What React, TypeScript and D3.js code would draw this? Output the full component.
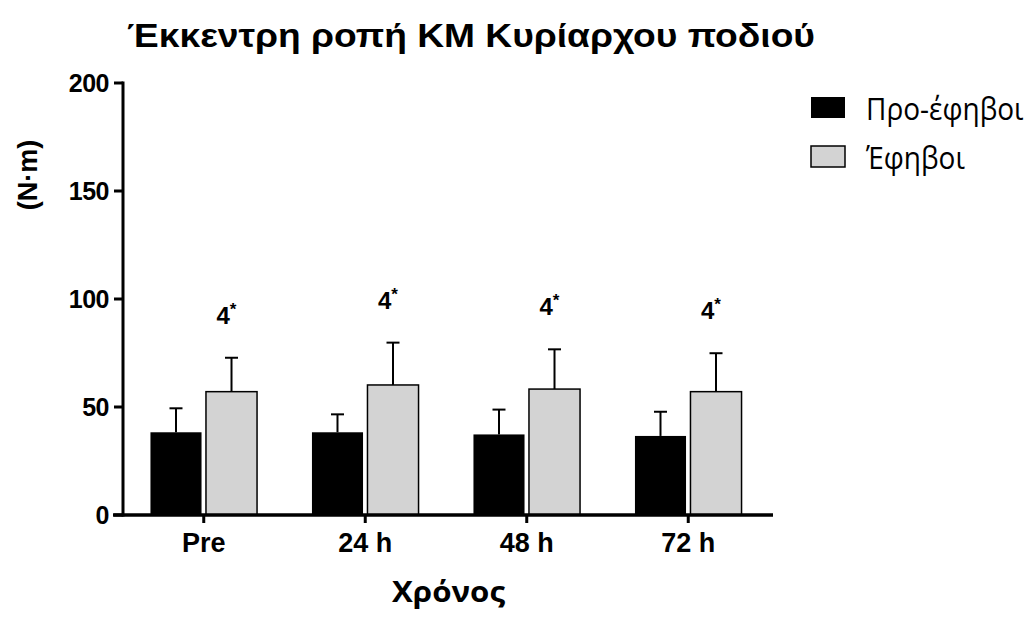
import React from "react";
import * as d3 from "d3";

const categories = ["Pre", "24 h", "48 h", "72 h"];
const seriesNames = ["Προ-έφηβοι", "Έφηβοι"];
const preMeans = [38.3, 38.3, 37.3, 36.6];
const preSD = [11.1, 8.3, 11.5, 11.2];
const adolMeans = [57.1, 60.2, 58.3, 57.1];
const adolSD = [15.7, 19.6, 18.4, 17.8];
const sigLabels = ["4", "4", "4", "4"];
const yTicks = [0, 50, 100, 150, 200];

const W = 1028;
const H = 619;

export default function App() {
  const y = d3.scaleLinear().domain([0, 200]).range([515, 83]);
  const x0 = d3.scaleBand().domain(categories).range([123, 769]).paddingInner(0.34).paddingOuter(0.17);
  const x1 = d3.scaleBand().domain(seriesNames).range([0, x0.bandwidth()]).paddingInner(0.08);
  const fills = ["#000000", "#d3d3d3"];
  const means = [preMeans, adolMeans];
  const sds = [preSD, adolSD];
  const font = "'Liberation Sans', Arial, sans-serif";

  return (
    <svg width={W} height={H} style={{ position: "absolute", left: 0, top: 0, background: "#fff" }} fontFamily={font}>
      <text x={127} y={47} fontSize={33} fontWeight="bold" textLength={688} lengthAdjust="spacingAndGlyphs">
        Έκκεντρη ροπή ΚΜ Κυρίαρχου ποδιού
      </text>
      {/* y axis */}
      <line x1={123} x2={123} y1={y(200) - 1.5} y2={y(0) + 1.5} stroke="#000" strokeWidth={3} />
      {yTicks.map((t) => (
        <g key={t}>
          <line x1={114} x2={123} y1={y(t)} y2={y(t)} stroke="#000" strokeWidth={3} />
          <text x={109} y={y(t) + 8.5} fontSize={25} fontWeight="bold" textAnchor="end" letterSpacing={-0.5}>{t}</text>
        </g>
      ))}
      <text transform={`translate(37,175) rotate(-90)`} fontSize={27} fontWeight="bold" textAnchor="middle">(N·m)</text>
      {/* bars */}
      {categories.map((c, i) => (
        <g key={c}>
          {seriesNames.map((s, j) => {
            const bx = (x0(c) as number) + (x1(s) as number);
            const bw = x1.bandwidth();
            const top = y(means[j][i]);
            const errTop = y(means[j][i] + sds[j][i]);
            const cx = bx + bw / 2;
            return (
              <g key={s}>
                <line x1={cx} x2={cx} y1={top} y2={errTop} stroke="#000" strokeWidth={2} />
                <line x1={cx - 6.5} x2={cx + 6.5} y1={errTop} y2={errTop} stroke="#000" strokeWidth={2} />
                <rect x={bx} y={top} width={bw} height={y(0) - top} fill={fills[j]} stroke="#000" strokeWidth={j === 0 ? 0 : 1.5} />
              </g>
            );
          })}
          {(() => {
            const s = seriesNames[1];
            const cx = (x0(c) as number) + (x1(s) as number) + x1.bandwidth() / 2;
            const errTop = y(adolMeans[i] + adolSD[i]);
            return (
              <text x={cx - 15} y={errTop - 34} fontSize={24} fontWeight="bold">
                {sigLabels[i]}
                <tspan fontSize={17} dy={-9}>*</tspan>
              </text>
            );
          })()}
        </g>
      ))}
      {/* x axis */}
      <line x1={113} x2={773} y1={515} y2={515} stroke="#000" strokeWidth={3.5} />
      {categories.map((c) => {
        const cx = (x0(c) as number) + x0.bandwidth() / 2;
        return (
          <g key={c}>
            <line x1={cx} x2={cx} y1={515} y2={523} stroke="#000" strokeWidth={3} />
            <text x={cx} y={552} fontSize={27} fontWeight="bold" textAnchor="middle">{c}</text>
          </g>
        );
      })}
      <text x={448.5} y={602} fontSize={28} fontWeight="bold" textAnchor="middle" fontFamily="'Open Sans', sans-serif" textLength={113} lengthAdjust="spacingAndGlyphs">Χρόνος</text>
      {/* legend */}
      {seriesNames.map((s, j) => (
        <g key={s}>
          <rect x={811} y={97 + j * 49} width={34} height={21} fill={fills[j]} stroke="#000" strokeWidth={j === 0 ? 0 : 1.5} />
          <text transform={`translate(866,${120 + j * 49}) scale(1,1.12)`} fontSize={28} fontFamily="'Open Sans', sans-serif">{s}</text>
        </g>
      ))}
    </svg>
  );
}
